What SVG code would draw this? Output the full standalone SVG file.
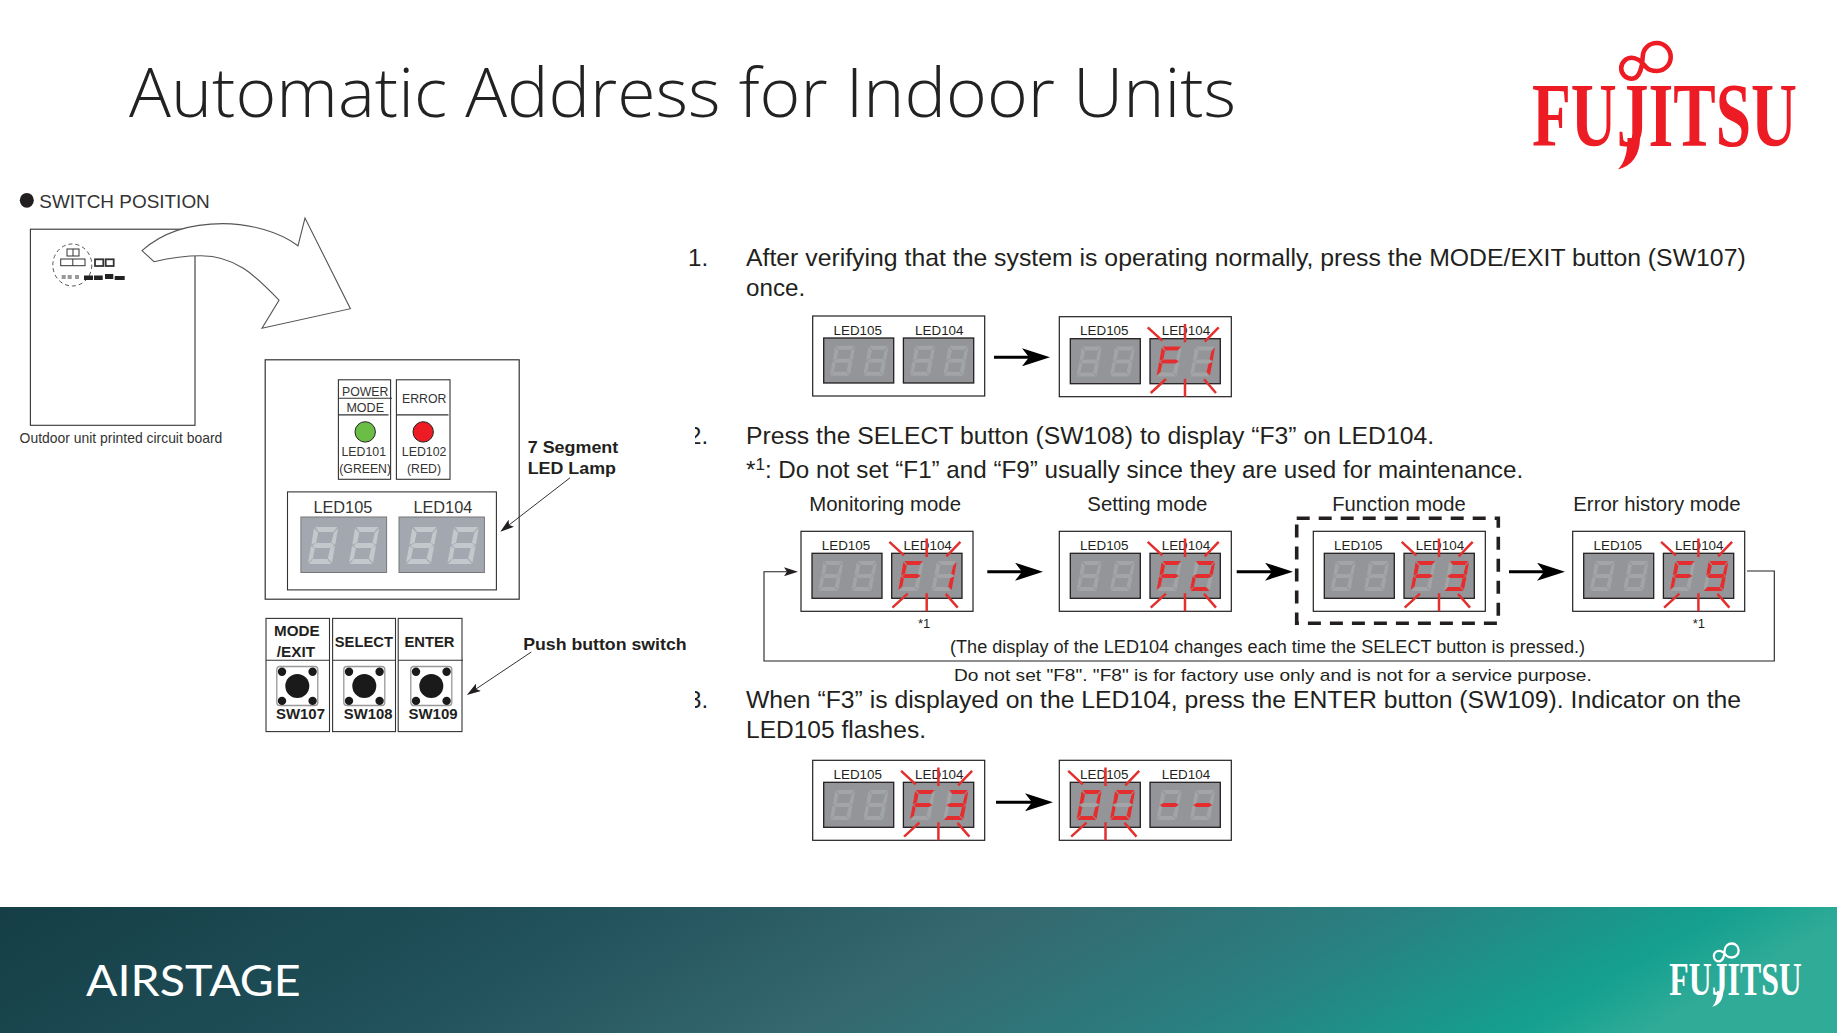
<svg xmlns="http://www.w3.org/2000/svg" width="1837" height="1033" viewBox="0 0 1837 1033">
<style>
text{font-family:"Liberation Sans",Arial,sans-serif;fill:#231f20}
.body{font-size:24.2px}
.mode{font-size:20px}
.led{font-size:13.4px;text-anchor:middle}
.note{font-size:13px}
.sm{font-size:13px;fill:#333}
.big{font-size:17px;fill:#333}
.b{font-weight:bold;font-size:16.5px}
.box{fill:#fff;stroke:#231f20;stroke-width:1.2}
.disp{fill:#939598;stroke:#231f20;stroke-width:1.3}
.thin{fill:none;stroke:#333;stroke-width:1}
.ray{stroke:#e2302f;stroke-width:2.5;fill:none}
.dim{fill:#a3a4a6}
.red{fill:#e32d2e}
.bar{stroke:#000;stroke-width:3;fill:none}
.fb{stroke:#231f20;stroke-width:1.1;fill:none}
</style>
<defs>
<linearGradient id="foot" x1="0" y1="0" x2="1" y2="0.12">
<stop offset="0" stop-color="#153e46"/><stop offset=".3" stop-color="#20505a"/><stop offset=".55" stop-color="#35686f"/><stop offset=".75" stop-color="#2a7f80"/><stop offset=".93" stop-color="#14a08f"/><stop offset="1" stop-color="#2fab98"/>
</linearGradient>
<marker id="bigHead" markerUnits="userSpaceOnUse" markerWidth="28" markerHeight="18" refX="7" refY="9" orient="auto"><path d="M0,0L28,9L0,18L7,9Z" fill="#000"/></marker>
<marker id="thinHead" markerUnits="userSpaceOnUse" markerWidth="14" markerHeight="9" refX="3" refY="4.5" orient="auto"><path d="M0,0L14,4.5L0,9L3,4.5Z" fill="#231f20"/></marker>
<polygon id="sa" points="6,0 24.5,0 21,4 9,4"/>
<polygon id="sb" points="25,1 22.7,14.5 19.5,12.8 21.5,4.7"/>
<polygon id="sc" points="22.5,15.5 20,29 16.5,25.5 18.5,17.3"/>
<polygon id="sd" points="0.5,30 19.5,30 16,26 4,26"/>
<polygon id="se" points="2.5,15.5 0,29 4,25.5 5.7,17.3"/>
<polygon id="sf" points="5,1 8.5,4.7 6.8,12.8 2.8,14.5"/>
<polygon id="sg" points="3.5,15 7,13 19.5,13 22,15 19,17 6,17"/>
<g id="d8"><use href="#sa"/><use href="#sb"/><use href="#sc"/><use href="#sd"/><use href="#se"/><use href="#sf"/><use href="#sg"/></g>
<g id="dF"><use href="#sa"/><use href="#se"/><use href="#sf"/><use href="#sg"/></g>
<g id="d1"><use href="#sb"/><use href="#sc"/></g>
<g id="d2"><use href="#sa"/><use href="#sb"/><use href="#sg"/><use href="#se"/><use href="#sd"/></g>
<g id="d3"><use href="#sa"/><use href="#sb"/><use href="#sg"/><use href="#sc"/><use href="#sd"/></g>
<g id="d9"><use href="#sa"/><use href="#sb"/><use href="#sf"/><use href="#sg"/><use href="#sc"/><use href="#sd"/></g>
<g id="d0"><use href="#sa"/><use href="#sb"/><use href="#sc"/><use href="#sd"/><use href="#se"/><use href="#sf"/></g>
<g id="base">
<rect class="box" x="0" y="0" width="172" height="80"/>
<rect class="disp" x="11" y="22" width="70" height="45"/>
<rect class="disp" x="90.7" y="22" width="70.3" height="45"/>
<g class="dim"><use href="#d8" x="17.3" y="29.7"/><use href="#d8" x="50.7" y="29.7"/><use href="#d8" x="97.3" y="29.7"/><use href="#d8" x="130.7" y="29.7"/></g>
</g>
<g id="rays">
<path class="ray" d="M125.7,7.3V25.6M125.7,62V80M88.4,10.6L103,24M159.4,10.6L145.4,25M106.7,62.3L91.4,76.3M144.7,62.6L156.7,76.3"/>
</g>
<g id="push">
<rect x="-20.5" y="-19.5" width="41" height="39" rx="3" fill="#fff" stroke="#999" stroke-width="1.3"/>
<circle r="12"/>
<circle cx="-15.3" cy="-14.3" r="4.2"/><circle cx="15.3" cy="-14.3" r="4.2"/><circle cx="-15.3" cy="14.9" r="4.2"/><circle cx="15.3" cy="14.9" r="4.2"/>
</g>
<g id="bigDisp">
<g fill="#c4c7cb"><use href="#d8" transform="translate(308,527) scale(1.2,1.23)"/><use href="#d8" transform="translate(349,527) scale(1.2,1.23)"/><use href="#d8" transform="translate(406,527) scale(1.25,1.23)"/><use href="#d8" transform="translate(447.5,527) scale(1.25,1.23)"/></g>
</g>
<path id="loop" d="M1631.7,57.8C1638,57.8 1642,62 1646,67C1649,70.5 1652,71 1657,71A14,14 0 1 0 1642.7,56.7C1642.7,65 1640,78.8 1631.7,78.8A10.5,10.5 0 0 1 1631.7,57.8Z" fill="none" stroke="currentColor" stroke-width="4.6"/>
<path id="tail" d="M1627.5,138L1640,138C1640,155 1632,166 1618,169.5C1625,162 1627.5,152 1627.5,138Z" fill="currentColor"/>
<clipPath id="c2"><rect x="695" y="415" width="30" height="40"/></clipPath>
<clipPath id="c3"><rect x="695" y="680" width="30" height="40"/></clipPath>
</defs>

<rect width="1837" height="1033" fill="#fff"/>
<rect y="907" width="1837" height="126" fill="url(#foot)"/>

<g id="title"><text x="129" y="117" font-size="68" textLength="1107" lengthAdjust="spacingAndGlyphs" style="font-family:'Open Sans','Liberation Sans',sans-serif;font-weight:300;font-size:68px;fill:#222">Automatic Address for Indoor Units</text></g>

<g id="logo-top" style="color:#ed1c24">
<use href="#loop"/><use href="#tail"/>
<text x="1532" y="146" textLength="265" lengthAdjust="spacingAndGlyphs" style="font-family:'Liberation Serif',serif;font-weight:bold;font-size:92px;fill:#ed1c24">FUJITSU</text>
</g>
<g id="logo-airstage"><text x="86" y="995.7" textLength="214.7" lengthAdjust="spacingAndGlyphs" style="font-family:Lato,'Open Sans',sans-serif;font-size:42.5px;font-weight:400;fill:#fff">AIRSTAGE</text></g>
<g id="logo-foot" style="color:#fff" transform="translate(903.3,922) scale(.5)">
<use href="#loop"/><use href="#tail"/>
<text x="1532" y="146" textLength="265" lengthAdjust="spacingAndGlyphs" style="font-family:'Liberation Serif',serif;font-weight:bold;font-size:92px;fill:#fff">FUJITSU</text>
</g>

<g id="switch-position">
<ellipse cx="26.8" cy="200.3" rx="7" ry="7.4" fill="#231f20"/>
<text x="39.3" y="208" font-size="19" textLength="170.5" lengthAdjust="spacingAndGlyphs" style="font-size:19px;fill:#333">SWITCH POSITION</text>
</g>

<g id="pcb">
<rect x="30.4" y="229.2" width="164.6" height="196.1" fill="#fff" stroke="#333" stroke-width="1.1"/>
<ellipse cx="72.3" cy="265" rx="19.5" ry="21" fill="none" stroke="#555" stroke-width="1" stroke-dasharray="4 3"/>
<g fill="#fff" stroke="#333" stroke-width="1"><rect x="67" y="249" width="12" height="7"/><line x1="73" y1="249" x2="73" y2="256"/><rect x="60.7" y="259" width="24.3" height="6.7"/><line x1="72.8" y1="259" x2="72.8" y2="265.7"/><rect x="95" y="259.3" width="8.3" height="6.7" stroke-width="1.8"/><rect x="105.7" y="259.3" width="8" height="6.7" stroke-width="1.8"/></g>
<g fill="#999"><rect x="61.7" y="275" width="4" height="4"/><rect x="67.7" y="275" width="4" height="4"/><rect x="75" y="275" width="4" height="4"/></g>
<g fill="#222"><rect x="84" y="275.5" width="9" height="4.5"/><rect x="94" y="275.5" width="8.7" height="4.5"/><rect x="105" y="274" width="8.3" height="5"/><rect x="114.7" y="276" width="10" height="4"/></g>
<text x="19.6" y="443" textLength="202.7" lengthAdjust="spacingAndGlyphs" style="font-size:14.5px;fill:#333">Outdoor unit printed circuit board</text>
</g>

<path id="big-arrow" d="M142,250.6C165,230 195,223.6 223,223.6C250,223.6 280,232 298,245.8L305,218L350.4,308.7L262,328.3L279,300.2C255,275 235,255.8 200.9,255.8C185,255.8 170,258 154,261.7Z" fill="#fff" stroke="#555" stroke-width="1.1"/>

<g id="led-panel">
<rect x="265.2" y="359.8" width="254" height="239.4" fill="#fff" stroke="#333" stroke-width="1.2"/>
<g fill="#fff" stroke="#333" stroke-width="1.1"><rect x="338.4" y="379.8" width="52.2" height="99.5"/><rect x="396.4" y="379.8" width="53.6" height="99.5"/><path d="M338.4,398.3H392M338.4,414.9H388.5M396.4,414.9H448.5" fill="none"/></g>
<text class="sm" x="342" y="395.7" textLength="46.4" lengthAdjust="spacingAndGlyphs">POWER</text>
<text class="sm" x="346.4" y="412" textLength="37.6" lengthAdjust="spacingAndGlyphs">MODE</text>
<text class="sm" x="402" y="403" textLength="44.4" lengthAdjust="spacingAndGlyphs">ERROR</text>
<circle cx="365.2" cy="431.9" r="10.2" fill="#6abd45" stroke="#222"/>
<circle cx="423.2" cy="431.9" r="10.2" fill="#ed1c24" stroke="#222"/>
<text class="sm" x="341.5" y="455.6" textLength="44.5" lengthAdjust="spacingAndGlyphs">LED101</text>
<text class="sm" x="339.3" y="472.6" textLength="51.7" lengthAdjust="spacingAndGlyphs">(GREEN)</text>
<text class="sm" x="401.8" y="455.6" textLength="44.6" lengthAdjust="spacingAndGlyphs">LED102</text>
<text class="sm" x="407" y="472.6" textLength="34" lengthAdjust="spacingAndGlyphs">(RED)</text>
<rect x="287.5" y="491.9" width="208.9" height="98" fill="#fff" stroke="#333" stroke-width="1.1"/>
<text class="big" x="313.4" y="513.3" textLength="58.9" lengthAdjust="spacingAndGlyphs">LED105</text>
<text class="big" x="413.4" y="513.3" textLength="58.9" lengthAdjust="spacingAndGlyphs">LED104</text>
<rect x="300.9" y="517" width="85.7" height="55.5" fill="#a3a8b0" stroke="#777"/>
<rect x="399" y="517" width="85.4" height="55.5" fill="#a3a8b0" stroke="#777"/>
<use href="#bigDisp"/>
</g>

<g id="buttons">
<g fill="#fff" stroke="#333" stroke-width="1.1"><rect x="266" y="618.4" width="63.5" height="113.2"/><rect x="332.6" y="618.4" width="62.9" height="113.2"/><rect x="398.2" y="618.4" width="63.8" height="113.2"/><path d="M266,660.2H329.5M332.6,660.2H395.5M398.2,660.2H463" fill="none"/></g>
<g fill="#1a1a1a"><use href="#push" x="297.3" y="686"/><use href="#push" x="364.3" y="686"/><use href="#push" x="431.3" y="686"/></g>
<g style="font-weight:bold">
<text x="274" y="636" textLength="45.6" lengthAdjust="spacingAndGlyphs" style="font-size:15px;font-weight:bold">MODE</text>
<text x="276.8" y="656.5" textLength="38.2" lengthAdjust="spacingAndGlyphs" style="font-size:15px;font-weight:bold">/EXIT</text>
<text x="334.8" y="646.5" textLength="58.1" lengthAdjust="spacingAndGlyphs" style="font-size:15px;font-weight:bold">SELECT</text>
<text x="404.5" y="646.5" textLength="50" lengthAdjust="spacingAndGlyphs" style="font-size:15px;font-weight:bold">ENTER</text>
<text x="276" y="719.4" textLength="49" lengthAdjust="spacingAndGlyphs" style="font-size:15px;font-weight:bold">SW107</text>
<text x="343.8" y="719.4" textLength="48.6" lengthAdjust="spacingAndGlyphs" style="font-size:15px;font-weight:bold">SW108</text>
<text x="408.5" y="719.4" textLength="49.1" lengthAdjust="spacingAndGlyphs" style="font-size:15px;font-weight:bold">SW109</text>
</g>
</g>

<g id="callouts">
<text class="b" x="527.7" y="453" textLength="90.6" lengthAdjust="spacingAndGlyphs">7 Segment</text>
<text class="b" x="527.7" y="474" textLength="88.3" lengthAdjust="spacingAndGlyphs">LED Lamp</text>
<text class="b" x="523.2" y="649.5" textLength="163.4" lengthAdjust="spacingAndGlyphs">Push button switch</text>
</g>

<g id="instructions">
<text class="body" x="688" y="266">1.</text>
<text class="body" x="746" y="266" textLength="999.7" lengthAdjust="spacingAndGlyphs">After verifying that the system is operating normally, press the MODE/EXIT button (SW107)</text>
<text class="body" x="746" y="296">once.</text>
<text class="body" x="688" y="444" clip-path="url(#c2)">2.</text>
<text class="body" x="746" y="444" textLength="688" lengthAdjust="spacingAndGlyphs">Press the SELECT button (SW108) to display “F3” on LED104.</text>
<text class="body" x="746" y="478.3">*<tspan dy="-8" style="font-size:17px">1</tspan><tspan dy="8">: Do not set “F1” and “F9” usually since they are used for maintenance.</tspan></text>
<text class="body" x="688" y="707.7" clip-path="url(#c3)">3.</text>
<text class="body" x="746" y="707.7" textLength="995" lengthAdjust="spacingAndGlyphs">When “F3” is displayed on the LED104, press the ENTER button (SW109). Indicator on the</text>
<text class="body" x="746" y="737.7" textLength="180" lengthAdjust="spacingAndGlyphs">LED105 flashes.</text>
<text class="mode" x="809.3" y="510.7" textLength="151.7" lengthAdjust="spacingAndGlyphs">Monitoring mode</text>
<text class="mode" x="1087.3" y="510.7" textLength="120" lengthAdjust="spacingAndGlyphs">Setting mode</text>
<text class="mode" x="1332.3" y="510.7" textLength="133.4" lengthAdjust="spacingAndGlyphs">Function mode</text>
<text class="mode" x="1573.3" y="510.7" textLength="167.4" lengthAdjust="spacingAndGlyphs">Error history mode</text>
<text class="note" x="918" y="628.3">*1</text>
<text class="note" x="1692.7" y="628.3">*1</text>
<text x="950" y="653.3" textLength="635" lengthAdjust="spacingAndGlyphs" style="font-size:17.6px">(The display of the LED104 changes each time the SELECT button is pressed.)</text>
<text x="954" y="680.7" textLength="637.7" lengthAdjust="spacingAndGlyphs" style="font-size:17px">Do not set "F8". "F8" is for factory use only and is not for a service purpose.</text>
</g>

<g id="panel-a1" transform="translate(812.7,316)"><use href="#base"/><text class="led" x="45" y="18.7">LED105</text><text class="led" x="126.6" y="18.7">LED104</text></g>
<g id="panel-a2" transform="translate(1059.3,316.7)"><use href="#base"/><text class="led" x="45" y="18">LED105</text><text class="led" x="126.6" y="18">LED104</text><g class="red"><use href="#dF" x="97.3" y="29.7"/><use href="#d1" x="130.7" y="29.7"/></g><use href="#rays"/></g>

<g id="panel-monitoring" transform="translate(801,531.3)"><use href="#base"/><text class="led" x="45" y="18.7">LED105</text><text class="led" x="126.6" y="18.7">LED104</text><g class="red"><use href="#dF" x="97.3" y="29.7"/><use href="#d1" x="130.7" y="29.7"/></g><use href="#rays"/></g>
<g id="panel-setting" transform="translate(1059.3,531.3)"><use href="#base"/><text class="led" x="45" y="18.7">LED105</text><text class="led" x="126.6" y="18.7">LED104</text><g class="red"><use href="#dF" x="97.3" y="29.7"/><use href="#d2" x="130.7" y="29.7"/></g><use href="#rays"/></g>
<g id="panel-function" transform="translate(1313.3,531.3)"><use href="#base"/><text class="led" x="45" y="18.7">LED105</text><text class="led" x="126.6" y="18.7">LED104</text><g class="red"><use href="#dF" x="97.3" y="29.7"/><use href="#d3" x="130.7" y="29.7"/></g><use href="#rays"/></g>
<g id="panel-error" transform="translate(1572.7,531.3)"><use href="#base"/><text class="led" x="45" y="18.7">LED105</text><text class="led" x="126.6" y="18.7">LED104</text><g class="red"><use href="#dF" x="97.3" y="29.7"/><use href="#d9" x="130.7" y="29.7"/></g><use href="#rays"/></g>

<g id="panel-c1" transform="translate(812.7,760.3)"><use href="#base"/><text class="led" x="45" y="18.7">LED105</text><text class="led" x="126.6" y="18.7">LED104</text><g class="red"><use href="#dF" x="97.3" y="29.7"/><use href="#d3" x="130.7" y="29.7"/></g><use href="#rays"/></g>
<g id="panel-c2" transform="translate(1059.3,760.3)"><use href="#base"/><text class="led" x="45" y="18.7">LED105</text><text class="led" x="126.6" y="18.7">LED104</text><g class="red"><use href="#d0" x="17.3" y="29.7"/><use href="#d0" x="50.7" y="29.7"/><use href="#sg" x="97.3" y="29.7"/><use href="#sg" x="130.7" y="29.7"/></g><use href="#rays" x="-79.5"/></g>

<rect id="function-highlight" x="1296.7" y="518.3" width="201.6" height="105" fill="none" stroke="#231f20" stroke-width="3.6" stroke-dasharray="13 9"/>

<g id="connectors">
<line class="bar" x1="994" y1="357.3" x2="1029" y2="357.3" marker-end="url(#bigHead)"/>
<line class="bar" x1="987.3" y1="571.7" x2="1022" y2="571.7" marker-end="url(#bigHead)"/>
<line class="bar" x1="1236.7" y1="571.7" x2="1272" y2="571.7" marker-end="url(#bigHead)"/>
<line class="bar" x1="1509" y1="571.7" x2="1544" y2="571.7" marker-end="url(#bigHead)"/>
<line class="bar" x1="996" y1="802.3" x2="1032" y2="802.3" marker-end="url(#bigHead)"/>
<path class="fb" d="M1747,571H1774.3V661H764V571.7H787" marker-end="url(#thinHead)"/>
<line class="thin" x1="570" y1="477.8" x2="509" y2="525" marker-end="url(#thinHead)"/>
<line class="thin" x1="531.3" y1="652" x2="476" y2="689" marker-end="url(#thinHead)"/>
</g>
</svg>
